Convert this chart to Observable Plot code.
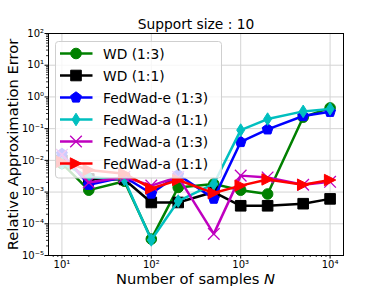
<!DOCTYPE html>
<html>
<head>
<meta charset="utf-8">
<script src="https://cdn.jsdelivr.net/npm/d3@7"></script>
<script src="https://cdn.jsdelivr.net/npm/@observablehq/plot@0.6"></script>
<style>
  html, body { margin: 0; padding: 0; background: #fff; }
  svg { font-family: "DejaVu Sans", sans-serif; }
</style>
</head>
<body>
<div id="chart"></div>
<script>
// ---- data ----
const N = [10, 20, 50, 100, 200, 500, 1000, 2000, 5000, 10000];
const wd13   = [8e-3, 1.15e-3, 2.2e-3, 3.3e-5, 1.4e-3, 1.8e-3, 1.15e-3, 8.7e-4, 0.23, 0.45];
const wd11   = [1e-2, 2.6e-3, 2.5e-3, 4.7e-4, 4.7e-4, 1e-3, 3.7e-4, 3.7e-4, 4.3e-4, 6.1e-4];
const fedE13 = [1.6e-2, 1.7e-3, 3e-3, 9e-4, 3.5e-3, 6.2e-4, 0.038, 0.095, 0.25, 0.34];
const fedA11c = [8e-3, 3e-3, 2.5e-3, 3.1e-5, 5.2e-4, 1.8e-3, 0.09, 0.2, 0.35, 0.42];
const fedA13 = [1.5e-2, 2e-3, 3e-3, 1.6e-3, 3e-3, 4.8e-5, 3.3e-3, 2.9e-3, 1.7e-3, 2.1e-3];
const fedA11r = [9e-3, 5e-3, 3.8e-3, 1.3e-3, 2.4e-3, 9.3e-4, 1.6e-3, 2.5e-3, 1.7e-3, 2.4e-3];

const seriesNames = ["WD (1:3)", "WD (1:1)", "FedWad-e (1:3)", "FedWad-a (1:1)", "FedWad-a (1:3)", "FedWad-a (1:1)"];
const seriesValues = [wd13, wd11, fedE13, fedA11c, fedA13, fedA11r];

const xTicks = [10, 100, 1000, 10000];
const xTickLabels = ["10¹", "10²", "10³", "10⁴"];
const yTicks = [1e-5, 1e-4, 1e-3, 1e-2, 1e-1, 1e0, 1e1, 1e2];
const yTickLabels = ["10⁻⁵", "10⁻⁴", "10⁻³", "10⁻²", "10⁻¹", "10⁰", "10¹", "10²"];

const title = "Support size : 10";
const yLabel = "Relative Approximation Error";

// ---- styles ----
const colors = ["#008000", "#000000", "#0000ff", "#00bfbf", "#bf00bf", "#ff0000"];
const sym = {
  circle: {draw(c) { const r = 5.3; c.moveTo(r, 0); c.arc(0, 0, r, 0, 2 * Math.PI); c.closePath(); }},
  square: {draw(c) { const h = 5.3; c.moveTo(-h, -h); c.lineTo(h, -h); c.lineTo(h, h); c.lineTo(-h, h); c.closePath(); }},
  pentagon: {draw(c) { const r = 5.7; for (let i = 0; i < 5; i++) { const a = -Math.PI / 2 + i * 2 * Math.PI / 5; const x = r * Math.cos(a), y = r * Math.sin(a); if (i === 0) c.moveTo(x, y); else c.lineTo(x, y); } c.closePath(); }},
  thinDiamond: {draw(c) { const h = 6.3, w = 4; c.moveTo(0, -h); c.lineTo(w, 0); c.lineTo(0, h); c.lineTo(-w, 0); c.closePath(); }},
  times: {draw(c) { const h = 5.8; c.moveTo(-h, -h); c.lineTo(h, h); c.moveTo(h, -h); c.lineTo(-h, h); }},
  triRight: {draw(c) { const h = 5.7; c.moveTo(h, 0); c.lineTo(-h, -h); c.lineTo(-h, h); c.closePath(); }}
};
const symbols = [sym.circle, sym.square, sym.pentagon, sym.thinDiamond, sym.times, sym.triRight];
const filled = [true, true, true, true, false, true];

const rows = seriesValues.map((vals, s) => N.map((n, i) => ({n, v: vals[i], s})));

const xMinor = [];
for (let e = 0; e <= 4; e++) for (let k = 2; k <= 9; k++) { const v = k * 10 ** e; if (v > 10 ** 0.85 && v < 10 ** 4.15) xMinor.push(v); }
const yMinor = [];
for (let e = -5; e < 2; e++) for (let k = 2; k <= 9; k++) yMinor.push(k * 10 ** e);

const marks = [
  Plot.gridX(xTicks, {stroke: "#d4d4d4", strokeOpacity: 1, strokeWidth: 1}),
  Plot.gridY(yTicks, {stroke: "#d4d4d4", strokeOpacity: 1, strokeWidth: 1}),
  Plot.axisX(xMinor, {tickSize: 2, tickFormat: () => "", strokeWidth: 0.8}),
  Plot.axisY(yMinor, {tickSize: 2, tickFormat: () => "", strokeWidth: 0.8}),
  Plot.axisX(xTicks, {tickSize: 3.5, tickPadding: 2, fontSize: 10, tickFormat: d => xTickLabels[xTicks.indexOf(d)], label: null}),
  Plot.axisY(yTicks, {tickSize: 3.5, tickPadding: 1, fontSize: 10, tickFormat: d => yTickLabels[yTicks.indexOf(d)], label: null})
];
rows.forEach((data, s) => {
  marks.push(Plot.line(data, {x: "n", y: "v", stroke: colors[s], strokeWidth: 2.5, strokeLinejoin: "round"}));
  marks.push(Plot.dot(data, {x: "n", y: "v", symbol: symbols[s],
    fill: filled[s] ? colors[s] : "none", stroke: colors[s], strokeWidth: filled[s] ? 1 : 1.3}));
});
marks.push(Plot.frame({stroke: "#000", strokeWidth: 1}));
marks.push(Plot.text([title], {frameAnchor: "top", dy: -9, fontSize: 13.8, lineAnchor: "middle", fill: "#000"}));
marks.push(Plot.text([yLabel], {frameAnchor: "left", dx: -35, rotate: -90, fontSize: 14.7, lineAnchor: "middle", textAnchor: "middle", fill: "#000"}));

const chart = Plot.plot({
  width: 381,
  height: 286,
  marginLeft: 48,
  marginRight: 38,
  marginTop: 33,
  marginBottom: 31,
  style: {fontFamily: "DejaVu Sans", background: "#fff", color: "#000"},
  x: {type: "log", domain: [10 ** 0.85, 10 ** 4.15], label: null, axis: null},
  y: {type: "log", domain: [1e-5, 1e2], label: null, axis: null},
  marks
});
document.getElementById("chart").append(chart);

// ---- x label with italic N ----
const svg = d3.select(chart);
const xl = svg.append("text")
  .attr("x", 195.5).attr("y", 278).attr("text-anchor", "middle").attr("dominant-baseline", "central")
  .attr("font-size", 14.7).attr("fill", "#000");
xl.append("tspan").text("Number of samples ");
xl.append("tspan").attr("font-style", "italic").text("N");

// ---- legend ----
const lg = svg.append("g").attr("text-anchor", "start");
lg.append("rect").attr("x", 55.5).attr("y", 41.5).attr("width", 166).attr("height", 136.5).attr("rx", 3)
  .attr("fill", "#fff").attr("fill-opacity", 0.8).attr("stroke", "#cfcfcf").attr("stroke-width", 1);
seriesNames.forEach((name, i) => {
  const y = 53.5 + 22 * i;
  lg.append("line").attr("x1", 60).attr("x2", 92.5).attr("y1", y).attr("y2", y)
    .attr("stroke", colors[i]).attr("stroke-width", 2.5);
  const p = d3.path(); symbols[i].draw(p);
  lg.append("path").attr("d", p.toString()).attr("transform", `translate(76,${y})`)
    .attr("fill", filled[i] ? colors[i] : "none").attr("stroke", colors[i]).attr("stroke-width", filled[i] ? 1 : 1.3);
  lg.append("text").attr("x", 103).attr("y", y).attr("dominant-baseline", "central").attr("text-anchor", "start")
    .attr("font-size", 13.8).attr("fill", "#000").text(name);
});
</script>
</body>
</html>
